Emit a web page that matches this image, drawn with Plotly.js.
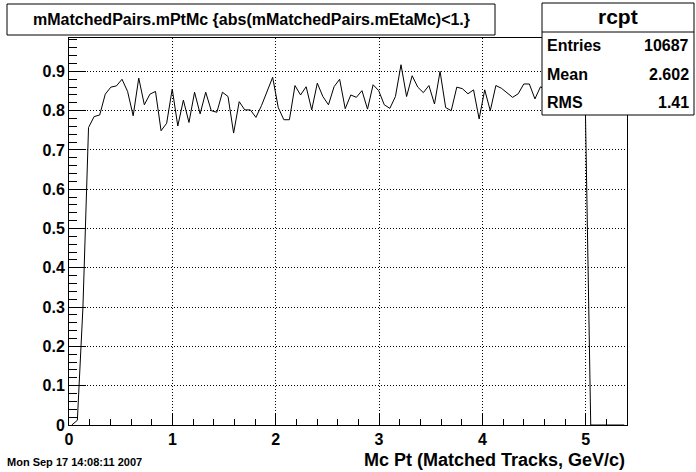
<!DOCTYPE html>
<html>
<head>
<meta charset="utf-8">
<script src="https://cdn.plot.ly/plotly-3.0.1.min.js"></script>
<style>
html,body{margin:0;padding:0;background:#fff;}
#chart{width:696px;height:472px;}
</style>
</head>
<body>
<div id="chart"></div>
<script>
// Histogram "rcpt": bin centres (100 bins over 0 - 5.4 GeV/c)
const binCenters = [
0.027,0.081,0.135,0.189,0.243,0.297,0.351,0.405,0.459,0.513,
0.567,0.621,0.675,0.729,0.783,0.837,0.891,0.945,0.999,1.053,
1.107,1.161,1.215,1.269,1.323,1.377,1.431,1.485,1.539,1.593,
1.647,1.701,1.755,1.809,1.863,1.917,1.971,2.025,2.079,2.133,
2.187,2.241,2.295,2.349,2.403,2.457,2.511,2.565,2.619,2.673,
2.727,2.781,2.835,2.889,2.943,2.997,3.051,3.105,3.159,3.213,
3.267,3.321,3.375,3.429,3.483,3.537,3.591,3.645,3.699,3.753,
3.807,3.861,3.915,3.969,4.023,4.077,4.131,4.185,4.239,4.293,
4.347,4.401,4.455,4.509,4.563,4.617,4.671,4.725,4.779,4.833,
4.887,4.941,4.995,5.049,5.103,5.157,5.211,5.265,5.319,5.373];

// efficiency values
const binValues = [
0.000,0.012,0.300,0.757,0.785,0.789,0.842,0.860,0.863,0.880,
0.849,0.787,0.883,0.815,0.842,0.849,0.749,0.768,0.855,0.761,
0.827,0.770,0.847,0.792,0.847,0.800,0.796,0.847,0.836,0.743,
0.823,0.802,0.802,0.783,0.813,0.847,0.885,0.808,0.777,0.777,
0.864,0.840,0.861,0.802,0.870,0.836,0.815,0.861,0.880,0.805,
0.840,0.834,0.851,0.804,0.866,0.851,0.815,0.806,0.836,0.917,
0.836,0.889,0.860,0.846,0.864,0.817,0.900,0.808,0.800,0.860,
0.856,0.843,0.853,0.779,0.853,0.800,0.864,0.857,0.845,0.834,
0.843,0.868,0.868,0.830,0.861,0.850,0.870,0.840,0.860,0.830,
0.880,0.850,0.840,0.000,0.000,0.000,0.000,0.000,0.000,0.000];

const xTickVals = [0,1,2,3,4,5];
const xTickText = ["0","1","2","3","4","5"];
const yTickVals = [0,0.1,0.2,0.3,0.4,0.5,0.6,0.7,0.8,0.9];
const yTickText = ["0","0.1","0.2","0.3","0.4","0.5","0.6","0.7","0.8","0.9"];

const histTitle = "mMatchedPairs.mPtMc {abs(mMatchedPairs.mEtaMc)<1.}";
const statsName = "rcpt";
const statLabels = ["Entries","Mean","RMS"];
const statValues = ["10687","2.602","1.41"];
const xTitle = "Mc Pt (Matched Tracks, GeV/c)";
const dateText = "Mon Sep 17 14:08:11 2007";

// ---- layout geometry (pixels) ----
const W = 696, H = 472;
const L = 69, R = 627, T = 38, B = 425;
const px = x => (x - L) / (R - L);
const py = y => (B - y) / (B - T);

const FONT = "Liberation Sans, Arial, Helvetica, sans-serif";
const bold = (size) => ({family: FONT, size: size, color: "#000", weight: "bold"});

const trace = {
  type: "scatter",
  mode: "lines",
  x: binCenters,
  y: binValues,
  line: {color: "#000", width: 1},
  hoverinfo: "skip",
  cliponaxis: true
};

const annotations = [
  {text: histTitle, x: px(251), y: py(19), xanchor: "center", yanchor: "middle", font: bold(16)},
  {text: statsName, x: px(618), y: py(17), xanchor: "center", yanchor: "middle", font: bold(21)},
  {text: xTitle, x: px(626), y: py(460), xanchor: "right", yanchor: "middle", font: bold(18)},
  {text: dateText, x: px(6), y: py(462), xanchor: "left", yanchor: "middle", font: bold(11)}
];
const statY = [46, 74, 102];
statLabels.forEach((lab, i) => {
  annotations.push({text: lab, x: px(546), y: py(statY[i]), xanchor: "left", yanchor: "middle", font: bold(16)});
  annotations.push({text: statValues[i], x: px(690), y: py(statY[i]), xanchor: "right", yanchor: "middle", font: bold(16)});
});
annotations.forEach(a => { a.xref = "paper"; a.yref = "paper"; a.showarrow = false; a.borderpad = 0; });

const shapes = [
  {type: "rect", xref: "paper", yref: "paper", x0: px(7), x1: px(495), y0: py(35), y1: py(4),
   line: {color: "#000", width: 1}, fillcolor: "#fff", layer: "above"},
  {type: "rect", xref: "paper", yref: "paper", x0: px(542), x1: px(694), y0: py(115), y1: py(3),
   line: {color: "#000", width: 1}, fillcolor: "#fff", layer: "above"},
  {type: "line", xref: "paper", yref: "paper", x0: px(542), x1: px(694), y0: py(32), y1: py(32),
   line: {color: "#000", width: 1}, layer: "above"}
];

const layout = {
  width: W, height: H,
  margin: {l: L, r: W - R, t: T, b: H - B, pad: 0},
  paper_bgcolor: "#fff",
  plot_bgcolor: "#fff",
  showlegend: false,
  xaxis: {
    range: [0, 5.4], tickmode: "array", tickvals: xTickVals, ticktext: xTickText,
    ticks: "inside", ticklen: 12, tickwidth: 1, tickcolor: "#000",
    showline: true, mirror: true, linecolor: "#000", linewidth: 1,
    showgrid: true, gridcolor: "#000", gridwidth: 1, griddash: "1px,2px",
    zeroline: false, tickfont: bold(16), fixedrange: true,
    minor: {dtick: 0.2, tick0: 0, ticks: "inside", ticklen: 6, tickcolor: "#000", tickwidth: 1, showgrid: false}
  },
  yaxis: {
    range: [0, 0.985], tickmode: "array", tickvals: yTickVals, ticktext: yTickText,
    ticks: "inside", ticklen: 17, tickwidth: 1, tickcolor: "#000",
    showline: true, mirror: true, linecolor: "#000", linewidth: 1,
    showgrid: true, gridcolor: "#000", gridwidth: 1, griddash: "1px,2px",
    zeroline: false, tickfont: bold(16), fixedrange: true,
    minor: {dtick: 0.02, tick0: 0, ticks: "inside", ticklen: 8, tickcolor: "#000", tickwidth: 1, showgrid: false}
  },
  annotations: annotations,
  shapes: shapes
};

Plotly.newPlot("chart", [trace], layout, {staticPlot: true, displayModeBar: false});
</script>
</body>
</html>
